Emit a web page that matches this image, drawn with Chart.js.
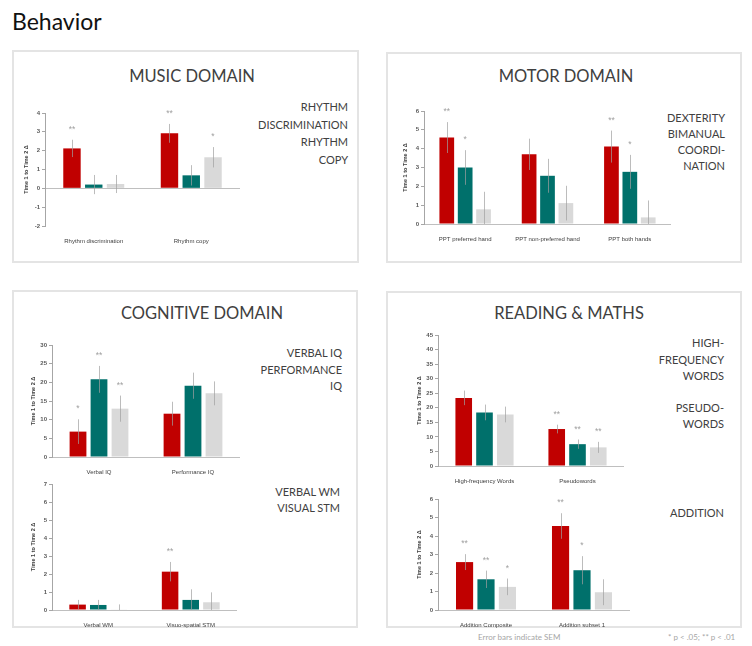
<!DOCTYPE html>
<html>
<head>
<meta charset="utf-8">
<script src="https://cdn.jsdelivr.net/npm/chart.js@4"></script>
<style>
  body { margin: 0; background: #fff; font-family: Lato, "Open Sans", sans-serif; }
  #page { position: relative; width: 752px; height: 646px; overflow: hidden; }
  .box { position: absolute; border: 2px solid #e4e4e4; box-sizing: border-box; }
  .title { position: absolute; color: #404040; font-size: 16.5px; transform: translateX(-50%); white-space: nowrap; }
  .side { position: absolute; color: #404040; font-size: 11px; text-align: right; white-space: nowrap; }
  .note { position: absolute; color: #a6a6a6; font-size: 8px; white-space: nowrap; }
  canvas { position: absolute; }
</style>
</head>
<body>
<div id="page">
  <div style="position:absolute; left:12px; top:7px; font-size:23px; color:#111;">Behavior</div>

  <div class="box" style="left:12px; top:50px; width:347px; height:213px;"></div>
  <div class="box" style="left:386px; top:52px; width:356px; height:211px;"></div>
  <div class="box" style="left:12px; top:290px; width:346px; height:338px;"></div>
  <div class="box" style="left:386px; top:291px; width:356px; height:337px;"></div>

  <div class="title" style="left:192px; top:66px;">MUSIC DOMAIN</div>
  <div class="title" style="left:566px; top:66px;">MOTOR DOMAIN</div>
  <div class="title" style="left:202px; top:303px;">COGNITIVE DOMAIN</div>
  <div class="title" style="left:569px; top:303px;">READING &amp; MATHS</div>

  <div class="side" style="right:404px; top:98px; line-height:17.5px;">RHYTHM<br>DISCRIMINATION<br>RHYTHM<br>COPY</div>
  <div class="side" style="right:27px; top:110px; line-height:16px;">DEXTERITY<br>BIMANUAL<br>COORDI-<br>NATION</div>
  <div class="side" style="right:410px; top:345px; line-height:16.5px;">VERBAL IQ<br>PERFORMANCE<br>IQ</div>
  <div class="side" style="right:412px; top:484px; line-height:16px;">VERBAL WM<br>VISUAL STM</div>
  <div class="side" style="right:28px; top:335px; line-height:16.5px;">HIGH-<br>FREQUENCY<br>WORDS</div>
  <div class="side" style="right:28px; top:400px; line-height:16px;">PSEUDO-<br>WORDS</div>
  <div class="side" style="right:28px; top:505px; line-height:16px;">ADDITION</div>

  <div class="note" style="left:478px; top:632px;">Error bars indicate SEM</div>
  <div class="note" style="left:668px; top:632px;">* p &lt; .05; ** p &lt; .01</div>

  <canvas id="rhythm"></canvas>
  <canvas id="motor"></canvas>
  <canvas id="iq"></canvas>
  <canvas id="mem"></canvas>
  <canvas id="read"></canvas>
  <canvas id="add"></canvas>
</div>

<script>
// values: one array per group (red, teal, grey)
const groupNames = ["Group 1", "Group 2", "Group 3"];
const groupColors = ["#c00000", "#00706b", "#d9d9d9"];

const rhythmCats = ["Rhythm discrimination", "Rhythm copy"];
const rhythmMeans = [[2.12, 2.92], [0.20, 0.69], [0.23, 1.65]];
const rhythmSem = [[0.46, 0.50], [0.51, 0.54], [0.48, 0.54]];
const rhythmStars = [["**", "**"], ["", ""], ["", "*"]];
const rhythmTicks = [-2, 4, 1];

const motorCats = ["PPT preferred hand", "PPT non-preferred hand", "PPT both hands"];
const motorMeans = [[4.59, 3.70, 4.11], [3.00, 2.56, 2.77], [0.78, 1.11, 0.35]];
const motorSem = [[0.82, 0.83, 0.85], [0.92, 0.90, 0.90], [0.93, 0.92, 0.90]];
const motorStars = [["**", "", "**"], ["*", "", "*"], ["", "", ""]];
const motorTicks = [0, 6, 1];

const iqCats = ["Verbal IQ", "Performance IQ"];
const iqMeans = [[6.8, 11.6], [20.8, 19.1], [12.95, 17.05]];
const iqSem = [[3.3, 3.2], [3.6, 3.5], [3.5, 3.2]];
const iqStars = [["*", ""], ["**", ""], ["**", ""]];
const iqTicks = [0, 30, 5];

const memCats = ["Verbal WM", "Visuo-spatial STM"];
const memMeans = [[0.30, 2.13], [0.28, 0.56], [0.02, 0.43]];
const memSem = [[0.26, 0.54], [0.28, 0.59], [0.29, 0.55]];
const memStars = [["", "**"], ["", ""], ["", ""]];
const memTicks = [0, 7, 1];

const readCats = ["High-frequency Words", "Pseudowords"];
const readMeans = [[23.4, 12.7], [18.4, 7.5], [17.7, 6.4]];
const readSem = [[2.5, 1.5], [2.7, 1.6], [2.7, 1.9]];
const readStars = [["", "**"], ["", "**"], ["", "**"]];
const readTicks = [0, 45, 5];

const addCats = ["Addition Composite", "Addition subset 1"];
const addMeans = [[2.59, 4.54], [1.66, 2.15], [1.25, 0.96]];
const addSem = [[0.43, 0.69], [0.47, 0.76], [0.45, 0.70]];
const addStars = [["**", "**"], ["**", "*"], ["*", ""]];
const addTicks = [0, 6, 1];

// error bars + significance stars, placed through the y scale
const errorBars = {
  id: "errorBars",
  afterDatasetsDraw(chart) {
    const ctx = chart.ctx;
    const y = chart.scales.y;
    const area = chart.chartArea;
    ctx.save();
    chart.data.datasets.forEach((ds, i) => {
      chart.getDatasetMeta(i).data.forEach((bar, j) => {
        const v = ds.data[j], s = ds.sem[j];
        const top = y.getPixelForValue(v + s);
        const bottom = Math.min(y.getPixelForValue(v - s), area.bottom);
        ctx.strokeStyle = "rgba(160,160,160,0.7)";
        ctx.lineWidth = 1;
        ctx.beginPath();
        ctx.moveTo(Math.round(bar.x) + 0.5, top);
        ctx.lineTo(Math.round(bar.x) + 0.5, bottom);
        ctx.stroke();
        if (ds.stars[j]) {
          ctx.fillStyle = "#a0a0a0";
          ctx.font = "8.5px 'Liberation Sans'";
          ctx.textAlign = "center";
          ctx.textBaseline = "alphabetic";
          ctx.fillText(ds.stars[j], bar.x, top - 8);
        }
      });
    });
    ctx.restore();
  }
};

function drawChart(id, cats, means, sems, stars, ticks, l, t, r, b) {
  const canvas = document.getElementById(id);
  const yW = 24, padTop = 8, padRight = 4, xH = 20;
  canvas.width = r - l + yW + padRight;
  canvas.height = b - t + padTop + xH;
  canvas.style.left = (l - yW) + "px";
  canvas.style.top = (t - padTop) + "px";

  new Chart(canvas, {
    type: "bar",
    data: {
      labels: cats,
      datasets: means.map((m, i) => ({
        label: groupNames[i],
        data: m,
        sem: sems[i],
        stars: stars[i],
        backgroundColor: groupColors[i],
        categoryPercentage: 0.67,
        barPercentage: 0.8
      }))
    },
    options: {
      responsive: false,
      animation: false,
      layout: { padding: { top: padTop, right: padRight, left: 0, bottom: 0 } },
      plugins: { legend: { display: false }, tooltip: { enabled: false } },
      scales: {
        x: {
          grid: { display: false },
          border: { display: false },
          ticks: { font: { size: 6, family: "'Liberation Sans'" }, color: "#404040", padding: 4, maxRotation: 0, autoSkip: false },
          afterFit: s => { s.height = xH; }
        },
        y: {
          min: ticks[0],
          max: ticks[1],
          ticks: { stepSize: ticks[2], font: { size: 6, family: "'Liberation Sans'", weight: "bold" }, color: "#595959", padding: 2 },
          grid: {
            color: c => (c.tick && c.tick.value === 0 ? "#bfbfbf" : "rgba(0,0,0,0)"),
            tickColor: "#a6a6a6",
            tickLength: 3
          },
          border: { display: true, color: "#a6a6a6" },
          title: {
            display: true,
            text: "Time 1 to Time 2 Δ",
            font: { size: 5.5, family: "'Liberation Sans'", weight: "bold" },
            color: "#404040",
            padding: { top: 2, bottom: 2 }
          },
          afterFit: s => { s.width = yW; }
        }
      }
    },
    plugins: [errorBars]
  });
}

drawChart("rhythm", rhythmCats, rhythmMeans, rhythmSem, rhythmStars, rhythmTicks, 45, 113, 240, 226);
drawChart("motor", motorCats, motorMeans, motorSem, motorStars, motorTicks, 424, 111, 671, 224);
drawChart("iq", iqCats, iqMeans, iqSem, iqStars, iqTicks, 52, 345, 240, 457);
drawChart("mem", memCats, memMeans, memSem, memStars, memTicks, 52, 484, 237, 610);
drawChart("read", readCats, readMeans, readSem, readStars, readTicks, 438, 335, 624, 466);
drawChart("add", addCats, addMeans, addSem, addStars, addTicks, 438, 499, 630, 610);
</script>
</body>
</html>
